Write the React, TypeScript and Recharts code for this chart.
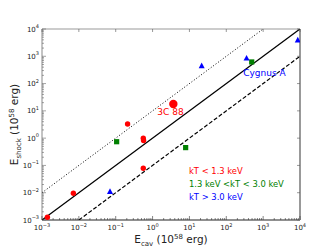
import { ScatterChart, Scatter, XAxis, YAxis, Legend } from 'recharts'

const FONT = '"DejaVu Sans", sans-serif'

// axis decades and their exponent labels
const DECADES = [1e-3, 1e-2, 1e-1, 1, 10, 100, 1000, 10000]
const EXPONENTS = ['\u22123', '\u22122', '\u22121', '0', '1', '2', '3', '4']
const MINOR_STEPS = [2, 3, 4, 5, 6, 7, 8, 9]

// kT < 1.3 keV (red)
const lowKT = [
    { ecav: 0.0014, eshock: 0.00126 },
    { ecav: 0.0071, eshock: 0.0095 },
    { ecav: 0.21, eshock: 3.3 },
    { ecav: 0.56, eshock: 1.0 },
    { ecav: 0.57, eshock: 0.82 },
    { ecav: 0.56, eshock: 0.079 },
]
// 3C 88, drawn bigger
const c388 = [{ ecav: 3.66, eshock: 17.8 }]

// 1.3 keV < kT < 3.0 keV (green)
const midKT = [
    { ecav: 0.106, eshock: 0.74 },
    { ecav: 7.9, eshock: 0.45 },
    { ecav: 490, eshock: 620 },
]

// kT > 3.0 keV (blue)
const highKT = [
    { ecav: 0.07, eshock: 0.011 },
    { ecav: 21.5, eshock: 450 },
    { ecav: 355, eshock: 850 },
    { ecav: 8700, eshock: 3950 },
]

// E_shock = E_cav, 10 E_cav, 0.1 E_cav
const equalLine = [{ ecav: 1e-3, eshock: 1e-3 }, { ecav: 1e4, eshock: 1e4 }]
const tenTimesLine = [{ ecav: 1e-3, eshock: 1e-2 }, { ecav: 1e3, eshock: 1e4 }]
const tenthLine = [{ ecav: 1e-2, eshock: 1e-3 }, { ecav: 1e4, eshock: 1e3 }]

// text annotations placed in data space
const redNotes = [{ ecav: 3.06, eshock: 9.1, text: '3C 88' }]
const blueNotes = [{ ecav: 1087, eshock: 244, text: 'Cygnus A' }]

const LEGEND_NAMES = ['kT < 1.3 keV', '1.3 keV <kT < 3.0 keV', 'kT > 3.0 keV']

const TICKS = [...DECADES, ...DECADES.slice(0, -1).flatMap((d) => MINOR_STEPS.map((k) => d * k))].sort((a, b) => a - b)

const majorIndex = (v: number) => {
    const l = Math.log10(v)
    return Math.abs(l - Math.round(l)) < 1e-6 ? DECADES.findIndex((d) => Math.abs(Math.log10(d) - l) < 1e-6) : -1
}

const Pow = ({ i }: { i: number }) => (
    <>
        10<tspan dy={-3.5} fontSize={5}>{EXPONENTS[i]}</tspan>
    </>
)

const BottomTick = ({ x, y, payload }: any) => {
    const i = majorIndex(payload.value)
    return (
        <g>
            <line x1={x} x2={x} y1={y} y2={y - (i >= 0 ? 4 : 2)} stroke="#333" strokeWidth={0.6} />
            {i >= 0 && (
                <text x={x} y={y + 10} textAnchor="middle" fontSize={7} fill="#222" fontFamily={FONT}>
                    <Pow i={i} />
                </text>
            )}
        </g>
    )
}

const LeftTick = ({ x, y, payload }: any) => {
    const i = majorIndex(payload.value)
    return (
        <g>
            <line x1={x} x2={x + (i >= 0 ? 4 : 2)} y1={y} y2={y} stroke="#666" strokeWidth={0.6} />
            {i >= 0 && (
                <text x={x - 3} y={y + 2.5} textAnchor="end" fontSize={7} fill="#222" fontFamily={FONT}>
                    <Pow i={i} />
                </text>
            )}
        </g>
    )
}

const TopTick = ({ x, y, payload }: any) =>
    majorIndex(payload.value) >= 0 ? <line x1={x} x2={x} y1={y} y2={y + 3} stroke="#555" strokeWidth={0.6} /> : <g />

const RightTick = ({ x, y, payload }: any) =>
    majorIndex(payload.value) >= 0 ? <line x1={x} x2={x - 3} y1={y} y2={y} stroke="#555" strokeWidth={0.6} /> : <g />

const Dot = (r: number) => ({ cx, cy }: any) => <circle cx={cx} cy={cy} r={r} fill="#ff0000" />
const Square = ({ cx, cy }: any) => <rect x={cx - 2.6} y={cy - 2.6} width={5.2} height={5.2} fill="#008000" />
const Triangle = ({ cx, cy }: any) => (
    <polygon points={`${cx},${cy - 3.3} ${cx + 3},${cy + 2.4} ${cx - 3},${cy + 2.4}`} fill="#0000ff" />
)
const Note = (color: string) => ({ cx, cy, payload }: any) => (
    <text x={cx} y={cy} textAnchor="middle" dominantBaseline="central" fontSize={9} fill={color} fontFamily={FONT}>
        {payload.text}
    </text>
)
const Nothing = () => <g />

const LegendText = ({ payload }: any) => {
    const items = [...(payload || [])].sort((a: any, b: any) => LEGEND_NAMES.indexOf(a.value) - LEGEND_NAMES.indexOf(b.value))
    return (
        <div style={{ fontFamily: FONT, fontSize: 8.4, lineHeight: '13px', whiteSpace: 'nowrap' }}>
            {items.map((p: any) => (
                <div key={p.value} style={{ color: p.color }}>
                    {p.value}
                </div>
            ))}
        </div>
    )
}

export default function App() {
    return (
        <div style={{ position: 'absolute', left: 0, top: 0, width: 333, height: 249, background: '#fff' }}>
            <ScatterChart width={333} height={249} margin={{ top: 0, right: 0, bottom: 0, left: 0 }} style={{ fontFamily: FONT }}>
                <XAxis
                    dataKey="ecav"
                    type="number"
                    scale="log"
                    domain={[1e-3, 1e4]}
                    allowDataOverflow
                    ticks={TICKS}
                    interval={0}
                    height={29}
                    tickSize={0}
                    tickMargin={0}
                    tickLine={false}
                    tick={<BottomTick />}
                    axisLine={{ stroke: '#222', strokeWidth: 1 }}
                    label={{
                        content: ({ viewBox }: any) => (
                            <text x={viewBox.x + viewBox.width / 2} y={viewBox.y + 23} textAnchor="middle" fontSize={10.5} fill="#222" fontFamily={FONT}>
                                E<tspan dy={2.5} fontSize={7}>cav</tspan>
                                <tspan dy={-2.5}> (10</tspan>
                                <tspan dy={-4} fontSize={7}>58</tspan>
                                <tspan dy={4}> erg)</tspan>
                            </text>
                        ),
                    }}
                />
                <XAxis
                    xAxisId="top"
                    orientation="top"
                    dataKey="ecav"
                    type="number"
                    scale="log"
                    domain={[1e-3, 1e4]}
                    allowDataOverflow
                    ticks={TICKS}
                    interval={0}
                    height={29}
                    tickSize={0}
                    tickMargin={0}
                    tickLine={false}
                    tick={<TopTick />}
                    axisLine={{ stroke: '#999', strokeWidth: 1 }}
                />
                <YAxis
                    dataKey="eshock"
                    type="number"
                    scale="log"
                    domain={[1e-3, 1e4]}
                    allowDataOverflow
                    ticks={TICKS}
                    interval={0}
                    width={42}
                    tickSize={0}
                    tickMargin={0}
                    tickLine={false}
                    tick={<LeftTick />}
                    axisLine={{ stroke: '#888', strokeWidth: 1 }}
                    label={{
                        content: ({ viewBox }: any) => {
                            const cx = viewBox.x + 18
                            const cy = viewBox.y + viewBox.height / 2
                            return (
                                <text x={cx} y={cy} transform={`rotate(-90 ${cx} ${cy})`} textAnchor="middle" fontSize={10.5} fill="#222" fontFamily={FONT}>
                                    E<tspan dy={2.5} fontSize={7}>shock</tspan>
                                    <tspan dy={-2.5}> (10</tspan>
                                    <tspan dy={-4} fontSize={7}>58</tspan>
                                    <tspan dy={4}> erg)</tspan>
                                </text>
                            )
                        },
                    }}
                />
                <YAxis
                    yAxisId="right"
                    orientation="right"
                    dataKey="eshock"
                    type="number"
                    scale="log"
                    domain={[1e-3, 1e4]}
                    allowDataOverflow
                    ticks={TICKS}
                    interval={0}
                    width={33}
                    tickSize={0}
                    tickMargin={0}
                    tickLine={false}
                    tick={<RightTick />}
                    axisLine={{ stroke: '#999', strokeWidth: 2 }}
                />
                <Legend layout="vertical" align="center" verticalAlign="middle" wrapperStyle={{ left: 189, top: 165, width: 'auto' }} content={<LegendText />} />

                <Scatter data={tenTimesLine} line={{ stroke: '#000', strokeWidth: 1, strokeDasharray: '1 2' }} shape={Nothing} legendType="none" isAnimationActive={false} />
                <Scatter data={equalLine} line={{ stroke: '#000', strokeWidth: 1.3 }} shape={Nothing} legendType="none" isAnimationActive={false} />
                <Scatter data={tenthLine} line={{ stroke: '#000', strokeWidth: 1.2, strokeDasharray: '4 2' }} shape={Nothing} legendType="none" isAnimationActive={false} />

                <Scatter name={LEGEND_NAMES[0]} data={lowKT} fill="#ff0000" shape={Dot(2.7)} isAnimationActive={false} />
                <Scatter name={LEGEND_NAMES[1]} data={midKT} fill="#008000" shape={Square} isAnimationActive={false} />
                <Scatter name={LEGEND_NAMES[2]} data={highKT} fill="#0000ff" shape={Triangle} isAnimationActive={false} />
                <Scatter data={c388} shape={Dot(4.2)} legendType="none" isAnimationActive={false} />

                <Scatter data={redNotes} shape={Note('#ff0000')} legendType="none" isAnimationActive={false} />
                <Scatter data={blueNotes} shape={Note('#0000ff')} legendType="none" isAnimationActive={false} />
            </ScatterChart>
        </div>
    )
}
